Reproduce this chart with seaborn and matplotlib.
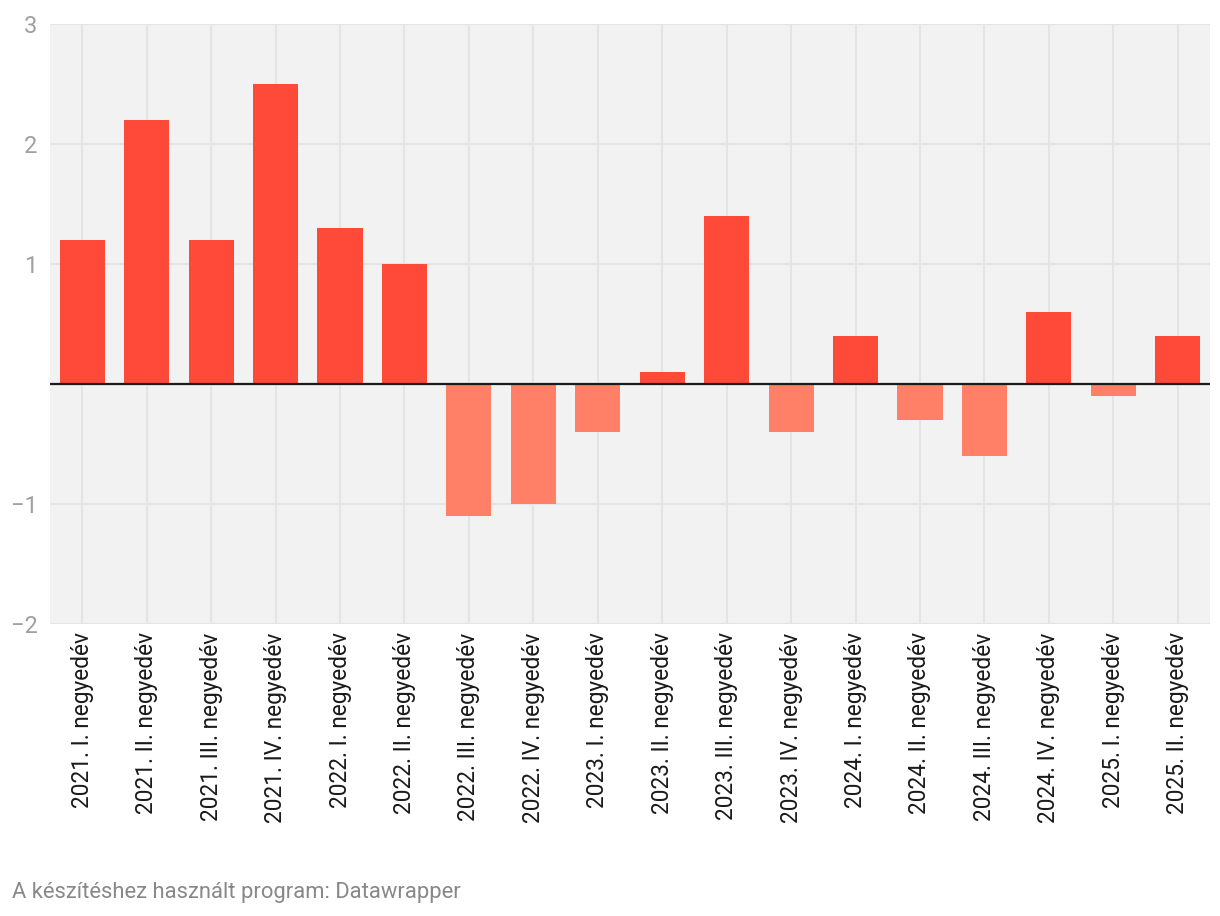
import matplotlib
matplotlib.use("Agg")
import matplotlib.pyplot as plt
import seaborn as sns
import pandas as pd

categories = ["2021. I. negyedév", "2021. II. negyedév", "2021. III. negyedév", "2021. IV. negyedév",
              "2022. I. negyedév", "2022. II. negyedév", "2022. III. negyedév", "2022. IV. negyedév",
              "2023. I. negyedév", "2023. II. negyedév", "2023. III. negyedév", "2023. IV. negyedév",
              "2024. I. negyedév", "2024. II. negyedév", "2024. III. negyedév", "2024. IV. negyedév",
              "2025. I. negyedév", "2025. II. negyedév"]
values = [1.2, 2.2, 1.2, 2.5, 1.3, 1.0, -1.1, -1.0, -0.4, 0.1, 1.4, -0.4, 0.4, -0.3, -0.6, 0.6, -0.1, 0.4]
y_ticks = [-2, -1, 1, 2, 3]

sns.set_theme(style="white")
plt.rcParams['font.family'] = ['Roboto', 'DejaVu Sans']

df = pd.DataFrame({"cat": categories, "val": values})
df["sign"] = ["pos" if v >= 0 else "neg" for v in values]

fig = plt.figure(figsize=(12.2, 9.16), dpi=100)
ax = fig.add_axes([50/1220, 1 - 624/916, 1160/1220, 600/916])
ax.set_facecolor("#f2f2f2")

sns.barplot(data=df, x="cat", y="val", hue="sign", palette={"pos": "#ff4a3a", "neg": "#ff7f67"},
            dodge=False, legend=False, width=0.7, saturation=1, linewidth=0, edgecolor="none",
            ax=ax, zorder=3)

ax.set_ylim(-2, 3)
ax.set_xlim(-0.5, len(categories) - 0.5)
ax.set_yticks(y_ticks + [0])
ax.set_yticklabels(["−2", "−1", "1", "2", "3", ""])
ax.grid(True, color="#e4e4e4", linewidth=1.5, zorder=0)
ax.set_axisbelow(True)
ax.axhline(0, color="#1a1a1a", linewidth=1.6, zorder=4)
for s in ax.spines.values():
    s.set_visible(False)
ax.set_xlabel("")
ax.set_ylabel("")
ax.tick_params(axis="y", length=0, pad=9, labelsize=17, labelcolor="#a0a0a0")
ax.tick_params(axis="x", length=0, pad=6, labelsize=16.3, labelcolor="#1a1a1a")
plt.setp(ax.get_xticklabels(), rotation=90, ha="center", va="top")

fig.text(12/1220, 1 - 898/916, "A készítéshez használt program: Datawrapper",
         fontsize=15.8, color="#888888", ha="left", va="baseline")

fig.savefig("out.png", dpi=100, facecolor="white")
